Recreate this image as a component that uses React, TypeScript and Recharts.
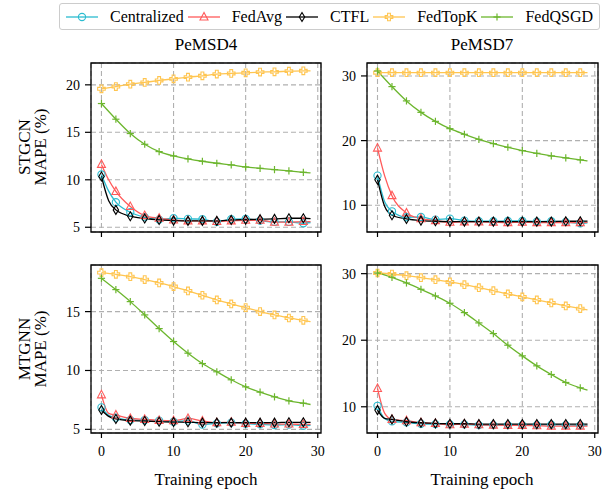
import React from 'react';
import { LineChart, Line, XAxis, YAxis, CartesianGrid, ReferenceArea } from 'recharts';

const epochs = [0, 1, 2, 4, 6, 8, 10, 12, 14, 16, 18, 20, 22, 24, 26, 28, 29];

// PeMSD4 / STGCN
const d4StgcnCentral = [10.56, 8.8, 7.64, 6.58, 6.06, 5.81, 5.95, 5.88, 5.85, 5.56, 5.85, 5.88, 5.7, 5.56, 5.56, 5.42, 5.5];
const d4StgcnFedAvg = [11.62, 10.0, 8.77, 7.18, 6.23, 5.95, 5.77, 5.67, 5.67, 5.6, 5.67, 5.74, 5.74, 5.53, 5.53, 5.6, 5.6];
const d4StgcnCtfl = [10.35, 7.8, 6.83, 6.16, 5.92, 5.77, 5.7, 5.67, 5.67, 5.67, 5.77, 5.81, 5.85, 5.88, 5.95, 5.95, 5.9];
const d4StgcnTopK = [19.58, null, 19.82, 20.07, 20.25, 20.46, 20.63, 20.81, 20.95, 21.13, 21.2, 21.27, 21.34, 21.37, 21.44, 21.48, 21.48];
const d4StgcnQsgd = [18.03, null, 16.38, 14.87, 13.74, 12.97, 12.51, 12.2, 11.95, 11.74, 11.56, 11.35, 11.21, 11.07, 10.93, 10.79, 10.72];

// PeMSD7 / STGCN
const d7StgcnCentral = [14.58, 10.5, 9.07, 8.15, 8.2, 7.79, 7.94, 7.63, 7.53, 7.53, 7.58, 7.58, 7.48, 7.53, 7.43, 7.22, 7.3];
const d7StgcnFedAvg = [18.84, 14.5, 11.49, 8.82, 7.94, 7.63, 7.37, 7.43, 7.43, 7.37, 7.32, 7.37, 7.32, 7.32, 7.32, 7.32, 7.35];
const d7StgcnCtfl = [13.96, 9.8, 8.46, 7.89, 7.63, 7.53, 7.48, 7.48, 7.48, 7.48, 7.48, 7.48, 7.48, 7.48, 7.53, 7.53, 7.55];
const d7StgcnTopK = [30.5, null, 30.5, 30.5, 30.5, 30.5, 30.5, 30.5, 30.5, 30.5, 30.5, 30.5, 30.5, 30.5, 30.5, 30.5, 30.5];
const d7StgcnQsgd = [30.77, null, 28.35, 26.14, 24.37, 22.98, 21.85, 20.98, 20.2, 19.54, 18.97, 18.46, 18.04, 17.63, 17.33, 17.02, 16.86];

// PeMSD4 / MTGNN
const d4MtgnnCentral = [6.87, 6.2, 5.99, 5.79, 5.79, 5.74, 5.65, 5.74, 5.4, 5.51, 5.57, 5.48, 5.42, 5.37, 5.4, 5.31, 5.33];
const d4MtgnnFedAvg = [7.93, 6.36, 6.22, 5.93, 5.85, 5.76, 5.74, 5.93, 5.71, 5.57, 5.6, 5.51, 5.51, 5.45, 5.45, 5.42, 5.42];
const d4MtgnnCtfl = [6.64, 6.1, 5.88, 5.74, 5.71, 5.65, 5.62, 5.6, 5.57, 5.57, 5.57, 5.57, 5.57, 5.57, 5.6, 5.6, 5.6];
const d4MtgnnTopK = [18.31, null, 18.17, 17.97, 17.72, 17.44, 17.13, 16.76, 16.39, 15.99, 15.65, 15.34, 15.0, 14.72, 14.46, 14.26, 14.15];
const d4MtgnnQsgd = [17.83, null, 16.87, 15.85, 14.72, 13.56, 12.46, 11.47, 10.59, 9.89, 9.21, 8.61, 8.16, 7.76, 7.42, 7.22, 7.11];

// PeMSD7 / MTGNN
const d7MtgnnCentral = [10.15, 8.2, 7.8, 7.65, 7.45, 7.4, 7.35, 7.35, 7.25, 7.25, 7.25, 7.25, 7.25, 7.3, 7.25, 7.2, 7.2];
const d7MtgnnFedAvg = [12.75, 9.0, 8.1, 7.9, 7.6, 7.5, 7.3, 7.4, 7.3, 7.25, 7.2, 7.2, 7.15, 7.1, 7.1, 7.1, 7.1];
const d7MtgnnCtfl = [9.5, 8.25, 8.1, 7.75, 7.6, 7.5, 7.45, 7.45, 7.4, 7.4, 7.4, 7.4, 7.4, 7.4, 7.4, 7.4, 7.4];
const d7MtgnnTopK = [30.1, null, 29.95, 29.7, 29.4, 29.1, 28.75, 28.35, 27.9, 27.45, 26.95, 26.5, 26.05, 25.6, 25.15, 24.75, 24.55];
const d7MtgnnQsgd = [30.1, null, 29.45, 28.6, 27.65, 26.65, 25.55, 24.15, 22.6, 21.0, 19.25, 17.65, 16.15, 14.85, 13.65, 12.85, 12.5];

const xTicks = [0, 10, 20, 30];

const FONT = '"Liberation Serif", "DejaVu Serif", serif';

const series = [
    { key: 'central', name: 'Centralized', color: '#2bbcd0', marker: 'circle' },
    { key: 'fedavg', name: 'FedAvg', color: '#ff5a5a', marker: 'triangle' },
    { key: 'ctfl', name: 'CTFL', color: '#000000', marker: 'diamond' },
    { key: 'topk', name: 'FedTopK', color: '#ffc550', marker: 'plusFilled' },
    { key: 'qsgd', name: 'FedQSGD', color: '#6cb62e', marker: 'plus' },
];

const buildRows = (c: any[], a: any[], t: any[], k: any[], q: any[]) =>
    epochs.map((e, i) => ({ epoch: e, central: c[i], fedavg: a[i], ctfl: t[i], topk: k[i], qsgd: q[i] }));

const MarkerShape = ({ kind, cx, cy, color }: { kind: string; cx: number; cy: number; color: string }) => {
    const sw = 1.1;
    if (kind === 'circle') {
        return <circle cx={cx} cy={cy} r={3.6} fill="none" stroke={color} strokeWidth={sw} />;
    }
    if (kind === 'triangle') {
        const pts = `${cx},${cy - 4.5} ${cx - 4},${cy + 3} ${cx + 4},${cy + 3}`;
        return <polygon points={pts} fill="none" stroke={color} strokeWidth={sw} />;
    }
    if (kind === 'diamond') {
        const pts = `${cx},${cy - 4.5} ${cx + 2.7},${cy} ${cx},${cy + 4.5} ${cx - 2.7},${cy}`;
        return <polygon points={pts} fill="none" stroke={color} strokeWidth={sw} />;
    }
    if (kind === 'plusFilled') {
        const r = 3.8, a = 1.4;
        const p = [[-a, -r], [a, -r], [a, -a], [r, -a], [r, a], [a, a], [a, r], [-a, r], [-a, a], [-r, a], [-r, -a], [-a, -a]];
        const pts = p.map(([x, y]) => `${cx + x},${cy + y}`).join(' ');
        return <polygon points={pts} fill="none" stroke={color} strokeWidth={sw} />;
    }
    // plain '+'
    return (
        <g stroke={color} strokeWidth={1.2}>
            <line x1={cx - 3.6} y1={cy} x2={cx + 3.6} y2={cy} />
            <line x1={cx} y1={cy - 3.6} x2={cx} y2={cy + 3.6} />
        </g>
    );
};

const makeDot = (kind: string, color: string) => (props: any) => {
    const { cx, cy, payload, index, value } = props;
    if (cx == null || cy == null || value == null || payload.epoch % 2 !== 0) {
        return <g key={`d-${index}`} />;
    }
    return (
        <g key={`d-${index}`}>
            <MarkerShape kind={kind} cx={cx} cy={cy} color={color} />
        </g>
    );
};

interface PanelProps {
    rows: any[];
    plotX: number;
    plotY: number;
    plotW: number;
    plotH: number;
    yDomain: [number, number];
    yTicks: number[];
    showXLabels: boolean;
}

const LEFT = 50;
const TOP = 10;
const RIGHT = 10;
const BOTTOM = 40;

const Panel: React.FC<PanelProps> = ({ rows, plotX, plotY, plotW, plotH, yDomain, yTicks, showXLabels }) => {
    const xDomain: [number, number] = [-1.45, 30.45];
    return (
        <div style={{ position: 'absolute', left: plotX - LEFT, top: plotY - TOP }}>
            <LineChart
                width={plotW + LEFT + RIGHT}
                height={plotH + TOP + BOTTOM}
                data={rows}
                margin={{ top: TOP, right: RIGHT, left: 0, bottom: 0 }}
            >
                <CartesianGrid stroke="#b0b0b0" strokeDasharray="5 3" strokeWidth={1.1} />
                <XAxis
                    dataKey="epoch"
                    type="number"
                    domain={xDomain}
                    ticks={xTicks}
                    allowDataOverflow
                    height={BOTTOM}
                    tickSize={5}
                    tickMargin={8}
                    tickLine={{ stroke: '#000', strokeWidth: 1.2 }}
                    axisLine={false}
                    tick={{ fill: '#000', fontSize: 14, fontFamily: FONT }}
                    tickFormatter={(v: number) => (showXLabels ? String(v) : '')}
                />
                <YAxis
                    type="number"
                    domain={yDomain}
                    ticks={yTicks}
                    allowDataOverflow
                    width={LEFT}
                    tickSize={6}
                    tickMargin={5}
                    tickLine={{ stroke: '#000', strokeWidth: 1.2 }}
                    axisLine={false}
                    tick={{ fill: '#000', fontSize: 14, fontFamily: FONT }}
                />
                {series.map(s => (
                    <Line
                        key={s.key}
                        dataKey={s.key}
                        type="monotone"
                        stroke={s.color}
                        strokeWidth={1.3}
                        connectNulls
                        dot={makeDot(s.marker, s.color)}
                        activeDot={false}
                        isAnimationActive={false}
                    />
                ))}
                <ReferenceArea
                    x1={xDomain[0]}
                    x2={xDomain[1]}
                    y1={yDomain[0]}
                    y2={yDomain[1]}
                    fill="none"
                    fillOpacity={0}
                    stroke="#000"
                    strokeWidth={1.3}
                    ifOverflow="visible"
                />
            </LineChart>
        </div>
    );
};

const Legend = () => (
    <div
        style={{
            position: 'absolute',
            right: 12,
            top: 3,
            height: 25,
            display: 'flex',
            alignItems: 'center',
            border: '1px solid #cccccc',
            borderRadius: 3,
            background: '#fff',
            padding: '0 6px',
            fontFamily: FONT,
            fontSize: 16,
            whiteSpace: 'nowrap',
        }}
    >
        {series.map((s, i) => (
            <div key={s.key} style={{ display: 'flex', alignItems: 'center', marginLeft: i === 0 ? 0 : 4 }}>
                <svg width={32} height={12} style={{ marginRight: 12 }}>
                    <line x1={0} y1={6} x2={32} y2={6} stroke={s.color} strokeWidth={1.3} />
                    <MarkerShape kind={s.marker} cx={16} cy={6} color={s.color} />
                </svg>
                <span>{s.name}</span>
            </div>
        ))}
    </div>
);

const App = () => {
    const rowsTL = buildRows(d4StgcnCentral, d4StgcnFedAvg, d4StgcnCtfl, d4StgcnTopK, d4StgcnQsgd);
    const rowsTR = buildRows(d7StgcnCentral, d7StgcnFedAvg, d7StgcnCtfl, d7StgcnTopK, d7StgcnQsgd);
    const rowsBL = buildRows(d4MtgnnCentral, d4MtgnnFedAvg, d4MtgnnCtfl, d4MtgnnTopK, d4MtgnnQsgd);
    const rowsBR = buildRows(d7MtgnnCentral, d7MtgnnFedAvg, d7MtgnnCtfl, d7MtgnnTopK, d7MtgnnQsgd);

    const textStyle = { fontFamily: FONT, fontSize: 17, fill: '#000' };

    return (
        <div style={{ position: 'absolute', left: 0, top: 0, width: 612, height: 493, background: '#fff', overflow: 'hidden' }}>
            <Panel rows={rowsTL} plotX={91} plotY={63} plotW={230} plotH={169} yDomain={[4.5, 22.3]} yTicks={[5, 10, 15, 20]} showXLabels={false} />
            <Panel rows={rowsTR} plotX={367} plotY={63} plotW={231} plotH={169} yDomain={[5.87, 32.0]} yTicks={[10, 20, 30]} showXLabels={false} />
            <Panel rows={rowsBL} plotX={91} plotY={265} plotW={230} plotH={168} yDomain={[4.69, 18.96]} yTicks={[5, 10, 15]} showXLabels />
            <Panel rows={rowsBR} plotX={367} plotY={265} plotW={231} plotH={168} yDomain={[6.06, 31.3]} yTicks={[10, 20, 30]} showXLabels />

            <svg width={612} height={493} style={{ position: 'absolute', left: 0, top: 0, pointerEvents: 'none' }}>
                <text x={206} y={50} textAnchor="middle" style={textStyle}>PeMSD4</text>
                <text x={482} y={50} textAnchor="middle" style={textStyle}>PeMSD7</text>
                <text x={206} y={485} textAnchor="middle" style={textStyle}>Training epoch</text>
                <text x={482} y={485} textAnchor="middle" style={textStyle}>Training epoch</text>
                <text x={30} y={147} textAnchor="middle" transform="rotate(-90 30 147)" style={textStyle}>STGCN</text>
                <text x={46} y={147} textAnchor="middle" transform="rotate(-90 46 147)" style={textStyle}>MAPE (%)</text>
                <text x={30} y={349} textAnchor="middle" transform="rotate(-90 30 349)" style={textStyle}>MTGNN</text>
                <text x={46} y={349} textAnchor="middle" transform="rotate(-90 46 349)" style={textStyle}>MAPE (%)</text>
            </svg>

            <Legend />
        </div>
    );
};

export default App;
